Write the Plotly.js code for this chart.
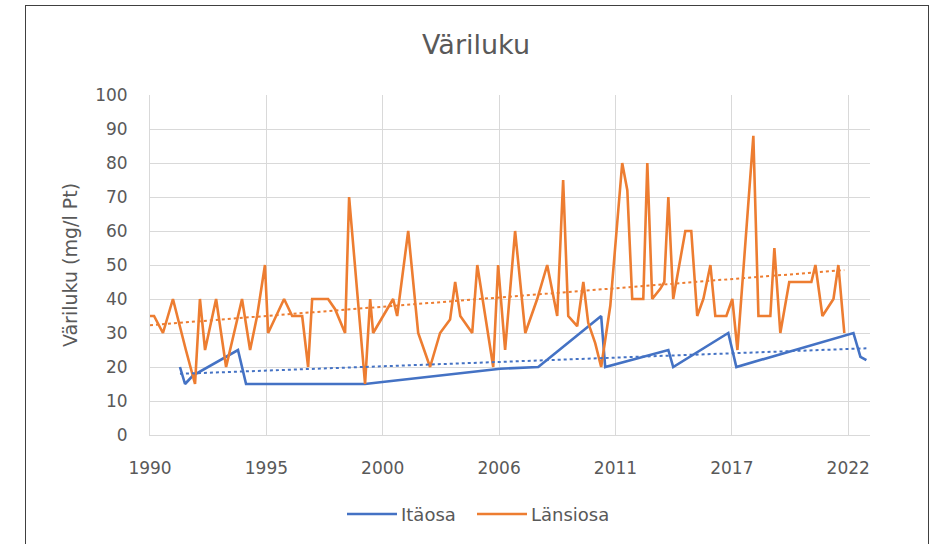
<!DOCTYPE html>
<html>
<head>
<meta charset="utf-8">
<script src="https://cdn.plot.ly/plotly-3.0.1.min.js"></script>
<style>
  html, body { margin: 0; padding: 0; background: #ffffff; overflow: hidden; }
  #chart { position: absolute; left: 0; top: 0; width: 940px; height: 544px; }
  #frame { position: absolute; left: 25px; top: 5px; width: 902px; height: 600px;
           border: 1px solid #404040; pointer-events: none; }
</style>
</head>
<body>
<div id="chart"></div>
<div id="frame"></div>
<script>
// ---- Data (decimal years) ----
const seriesNames = ["Itäosa", "Länsiosa"];

const itaYears = [1991.41, 1991.65, 1992.02, 1994.14, 1994.52, 2000.12, 2000.83, 2006.48, 2008.27,
                  2011.23, 2011.42, 2014.39, 2014.62, 2017.21, 2017.59, 2023.10, 2023.43, 2023.71];
const itaValues = [20, 15, 17.5, 25, 15, 15, 15.5, 19.5, 20,
                   35, 20, 25, 20, 30, 20, 30, 23, 22];

const lansiYears = [1990.00, 1990.19, 1990.61, 1991.08, 1991.69, 1992.12, 1992.35, 1992.59, 1993.11, 1993.58,
                    1994.33, 1994.71, 1995.04, 1995.41, 1995.56, 1996.31, 1996.69, 1997.16, 1997.44, 1997.63,
                    1998.38, 1998.71, 1999.18, 1999.37, 2000.12, 2000.36, 2000.50, 2001.25, 2001.44, 2001.63,
                    2002.15, 2002.62, 2003.18, 2003.65, 2004.12, 2004.36, 2004.60, 2005.16, 2005.40, 2006.15,
                    2006.38, 2006.71, 2007.18, 2007.66, 2008.22, 2008.69, 2009.16, 2009.44, 2009.68, 2010.10,
                    2010.39, 2010.62, 2010.95, 2011.23, 2011.66, 2012.22, 2012.46, 2012.69, 2013.21, 2013.40,
                    2013.63, 2014.01, 2014.20, 2014.39, 2014.62, 2015.19, 2015.47, 2015.75, 2016.04, 2016.37,
                    2016.60, 2017.12, 2017.40, 2017.64, 2018.39, 2018.63, 2019.19, 2019.38, 2019.66, 2020.08,
                    2021.12, 2021.31, 2021.64, 2022.16, 2022.39, 2022.67];
const lansiValues = [35, 35, 30, 40, 25, 15, 40, 25, 40, 20,
                     40, 25, 35, 50, 30, 40, 35, 35, 20, 40,
                     40, 37, 30, 70, 15, 40, 30, 38, 40, 35,
                     60, 30, 20, 30, 34, 45, 35, 30, 50, 20,
                     50, 25, 60, 30, 40, 50, 35, 75, 35, 32,
                     45, 33, 27, 20, 38, 80, 72, 40, 40, 80,
                     40, 43, 45, 70, 40, 60, 60, 35, 40, 50,
                     35, 35, 40, 25, 88, 35, 35, 55, 30, 45,
                     45, 50, 35, 40, 50, 30];

// Linear trendlines (end points)
const itaTrendYears = [1991.41, 2023.71];
const itaTrendValues = [18.0, 25.5];
const lansiTrendYears = [1990.00, 2022.67];
const lansiTrendValues = [32.3, 48.5];

const xTickStartYear = 1990.0;
const xRangeYears = [1990.0, 2023.88];
const yRange = [0, 100];

// ---- helpers ----
function yearToDate(y) {
  const yr = Math.floor(y);
  const t0 = Date.UTC(yr, 0, 1), t1 = Date.UTC(yr + 1, 0, 1);
  const d = new Date(t0 + (y - yr) * (t1 - t0));
  return d.toISOString().slice(0, 19).replace('T', ' ');
}
const dates = arr => arr.map(yearToDate);

const BLUE = '#4472C4', ORANGE = '#ED7D31', TXT = '#595959', GRID = '#d9d9d9';
const FONT = 'DejaVu Sans';

// plot-area pixel geometry
const PL = 150, PR = 870, PT = 95, PB = 435, W = 940, H = 544;
const px = x => (x - PL) / (PR - PL);
const py = y => (PB - y) / (PB - PT);

const traces = [
  { x: dates(itaYears), y: itaValues, type: 'scatter', mode: 'lines', name: seriesNames[0],
    line: { color: BLUE, width: 2.6 }, showlegend: false },
  { x: dates(lansiYears), y: lansiValues, type: 'scatter', mode: 'lines', name: seriesNames[1],
    line: { color: ORANGE, width: 2.6 }, showlegend: false },
  { x: dates(itaTrendYears), y: itaTrendValues, type: 'scatter', mode: 'lines', name: 'Lin. (' + seriesNames[0] + ')',
    line: { color: BLUE, width: 2, dash: 'dot' }, showlegend: false },
  { x: dates(lansiTrendYears), y: lansiTrendValues, type: 'scatter', mode: 'lines', name: 'Lin. (' + seriesNames[1] + ')',
    line: { color: ORANGE, width: 2, dash: 'dot' }, showlegend: false }
];

const legY = py(514);
const layout = {
  width: W, height: H,
  margin: { l: PL, r: W - PR, t: PT, b: H - PB, pad: 0 },
  paper_bgcolor: '#ffffff', plot_bgcolor: '#ffffff',
  font: { family: FONT, color: TXT, size: 17 },
  title: { text: 'Väriluku', font: { family: FONT, size: 27, color: TXT },
           x: 476 / W, xref: 'container', xanchor: 'center',
           y: 1 - 45 / H, yref: 'container', yanchor: 'middle' },
  xaxis: {
    type: 'date',
    range: [yearToDate(xRangeYears[0]), yearToDate(xRangeYears[1])],
    tick0: yearToDate(xTickStartYear), dtick: 2000 * 86400000,
    tickformat: '%Y',
    showgrid: true, gridcolor: GRID, gridwidth: 1,
    showline: true, linecolor: GRID, linewidth: 1,
    zeroline: false, ticks: '', ticklabelstandoff: 18,
    tickfont: { family: FONT, size: 17, color: TXT }
  },
  yaxis: {
    range: yRange, dtick: 10, tick0: 0,
    showgrid: true, gridcolor: GRID, gridwidth: 1,
    showline: true, linecolor: GRID, linewidth: 1,
    zeroline: false, ticks: '', ticklabelstandoff: 18,
    tickfont: { family: FONT, size: 17, color: TXT },
    title: { text: 'Väriluku (mg/l Pt)', font: { family: FONT, size: 19, color: TXT }, standoff: 12 }
  },
  shapes: [
    { type: 'line', xref: 'paper', yref: 'paper', x0: px(347), x1: px(397), y0: legY, y1: legY,
      line: { color: BLUE, width: 2.6 } },
    { type: 'line', xref: 'paper', yref: 'paper', x0: px(477), x1: px(527), y0: legY, y1: legY,
      line: { color: ORANGE, width: 2.6 } }
  ],
  annotations: [
    { xref: 'paper', yref: 'paper', x: px(399), y: legY, xanchor: 'left', yanchor: 'middle',
      text: seriesNames[0], showarrow: false, font: { family: FONT, size: 18, color: TXT } },
    { xref: 'paper', yref: 'paper', x: px(529), y: legY, xanchor: 'left', yanchor: 'middle',
      text: seriesNames[1], showarrow: false, font: { family: FONT, size: 18, color: TXT } }
  ],
  showlegend: false
};

Plotly.newPlot('chart', traces, layout, { displayModeBar: false, staticPlot: true });
</script>
</body>
</html>
